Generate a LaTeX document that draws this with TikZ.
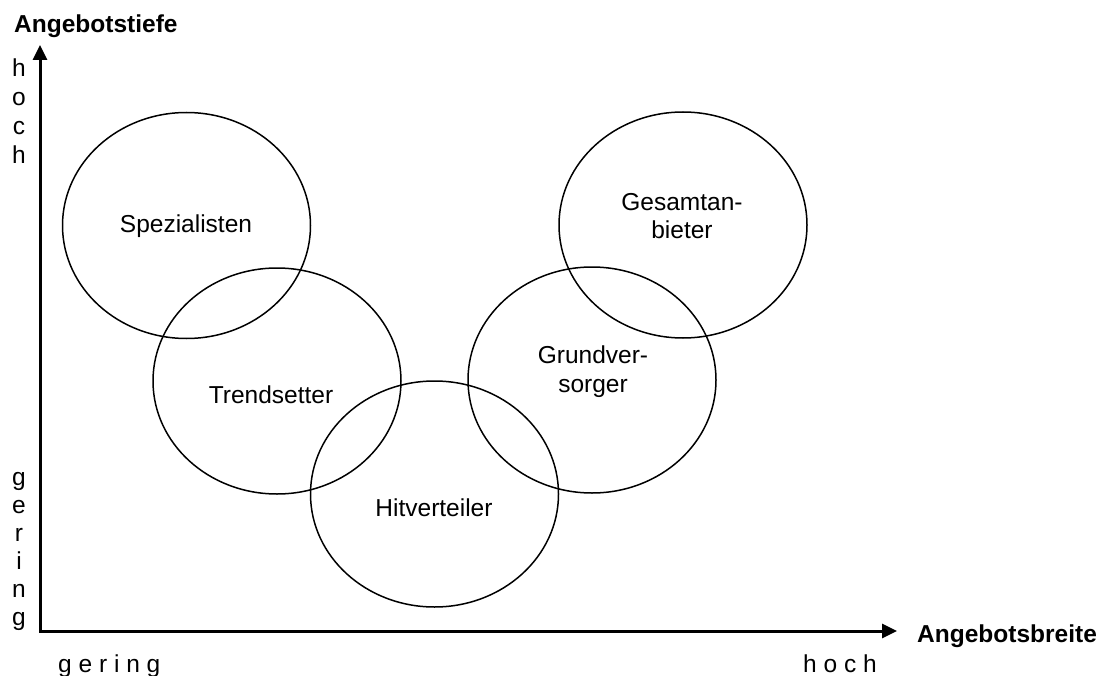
\documentclass[tikz,border=0pt]{standalone}
\usepackage{fontspec}
\setmainfont{Liberation Sans}
\usetikzlibrary{shapes.geometric,arrows.meta}

\begin{document}
\begin{tikzpicture}[x=1pt,y=-1pt,
  every node/.style={inner sep=0pt, font=\fontsize{24.5}{28.8}\selectfont},
  segment/.style={ellipse, draw, line width=1.5pt, minimum width=248pt, minimum height=226pt},
  axis/.style={line width=3pt, {Triangle[length=15pt,width=14pt]}-{Triangle[length=15pt,width=14pt]}},
  lbl/.style={anchor=base, align=center},
  axislabel/.style={anchor=base west, font=\fontsize{24.5}{28.8}\selectfont\bfseries}]
  \useasboundingbox (0,0) rectangle (1102,676);

  % axes
  \coordinate (yTip) at (40,45);
  \coordinate (origin) at (40,631);
  \coordinate (xTip) at (897,631);
  \draw[axis] (yTip) -- (origin) -- (xTip);

  \node[axislabel] (yName) at (14,33) {Angebotstiefe};
  \node[axislabel] (xName) at (917,642) {Angebotsbreite};

  % scale words on the vertical axis
  \foreach \ch [count=\i] in {h,o,c,h}
    \node[anchor=base] (yHigh\i) at (19,{77+29*(\i-1)}) {\ch};
  \foreach \ch [count=\i] in {g,e,r,i,n,g}
    \node[anchor=base] (yLow\i) at (19,{485+28*(\i-1)}) {\ch};

  % scale words on the horizontal axis
  \node[anchor=base west] (xLow) at (58,672) {g e r i n g};
  \node[anchor=base west] (xHigh) at (803,672) {h o c h};

  % retail segments
  \node[segment] (spez)   at (186.5,225.5) {};
  \node[segment] (trend)  at (277,381) {};
  \node[segment] (hit)    at (434.5,494) {};
  \node[segment] (grund)  at (592,380) {};
  \node[segment] (gesamt) at (683,225) {};

  % segment names (base anchor sits on the last line)
  \node[lbl] (spezText)   at (186,233) {Spezialisten};
  \node[lbl] (trendText)  at (271,403) {Trendsetter};
  \node[lbl] (hitText)    at (434,516) {Hitverteiler};
  \node[lbl] (grundText)  at (593,392) {Grundver-\\sorger};
  \node[lbl] (gesamtText) at (682,239) {Gesamtan-\\bieter};
\end{tikzpicture}
\end{document}
